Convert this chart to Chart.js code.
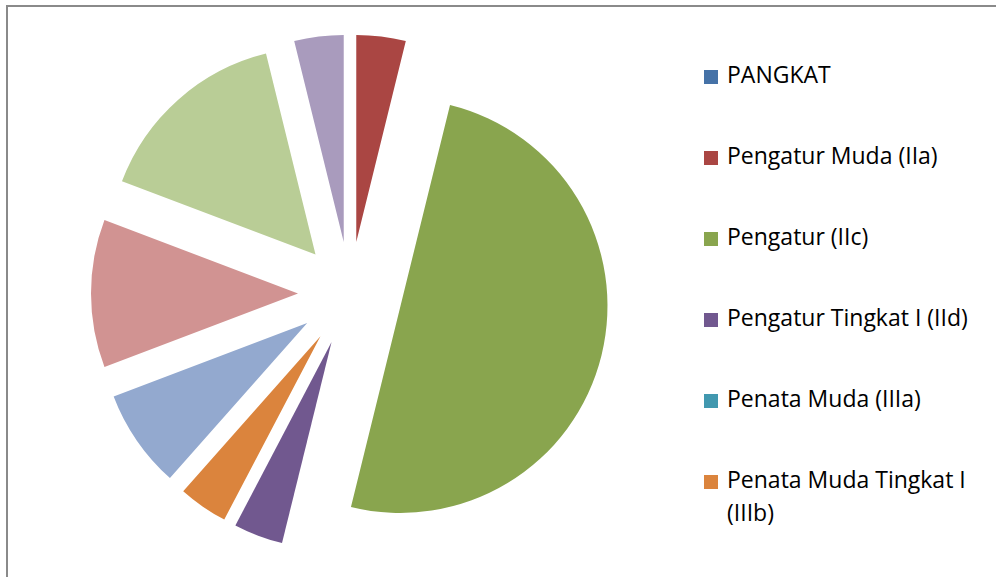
<!DOCTYPE html>
<html>
<head>
<meta charset="utf-8">
<script src="https://cdn.jsdelivr.net/npm/chart.js@4.4.0/dist/chart.umd.min.js"></script>
<style>
  html, body { margin: 0; padding: 0; background: #fff; overflow: hidden; }
  body { width: 996px; height: 577px; position: relative; }
  #frame { position: absolute; left: 6px; top: 5px; width: 1000px; height: 600px; border: 2px solid #8a8a8a; box-sizing: border-box; }
  #box { position: absolute; left: 0; top: 0; width: 700px; height: 577px; }
  .item { position: absolute; left: 704px; font-family: "Open Sans", sans-serif; font-size: 23px; line-height: 33px; color: #000; }
  .item .sq { position: absolute; left: 0; top: 12px; width: 14px; height: 14px; }
  .item .tx { margin-left: 23px; width: 262px; }
</style>
</head>
<body>
<div id="frame"></div>
<div id="box"><canvas id="chart_pangkat"></canvas></div>
<div id="legend"></div>
<script>
// data
const labels = ['PANGKAT', 'Pengatur Muda (IIa)', 'Pengatur (IIc)', 'Pengatur Tingkat I (IId)',
                'Penata Muda (IIIa)', 'Penata Muda Tingkat I (IIIb)', 'Penata (IIIc)',
                'Penata Tingkat I (IIId)', 'Pembina (IVa)', 'Pembina Tingkat I (IVb)']
const jumlah = [0, 1, 13, 1, 0, 1, 2, 3, 4, 1]
const cores = ['#4572a7', '#aa4643', '#89a54e', '#71588f', '#4198af', '#db843d',
               '#93a9cf', '#d19392', '#b9cd96', '#a99bbd']
const legendShown = 6  // legenda asli terpotong setelah 6 item
const explodeDist = 52 // jarak geser tiap irisan (px)

const ctx = document.getElementById('chart_pangkat')

// geser semua irisan sama jauh dari pusat, seperti pie "exploded" di Excel
const explodePlugin = {
    id: 'explode',
    afterUpdate: function(chart) {
        chart.getDatasetMeta(0).data.forEach(function(arc) {
            const mid = (arc.startAngle + arc.endAngle) / 2
            arc.x += Math.cos(mid) * explodeDist
            arc.y += Math.sin(mid) * explodeDist
        })
    }
}

new Chart(ctx, {
    type: 'pie',
    data: {
        labels: labels,
        datasets: [{
            data: jumlah,
            backgroundColor: cores,
            borderWidth: 0,
            radius: 207,
            hoverOffset: 0
        }]
    },
    options: {
        responsive: true,
        maintainAspectRatio: false,
        animation: false,
        layout: { padding: { top: 10 } },
        plugins: {
            legend: { display: false },
            tooltip: { enabled: false }
        }
    },
    plugins: [explodePlugin]
})

// legenda
const legend = document.getElementById('legend')
labels.slice(0, legendShown).forEach((l, i) => {
    const el = document.createElement('div')
    el.className = 'item'
    el.style.top = (58 + i * 81) + 'px'
    el.innerHTML = '<div class="sq" style="background:' + cores[i] + '"></div><div class="tx"></div>'
    el.querySelector('.tx').textContent = l
    legend.appendChild(el)
})
</script>
</body>
</html>
